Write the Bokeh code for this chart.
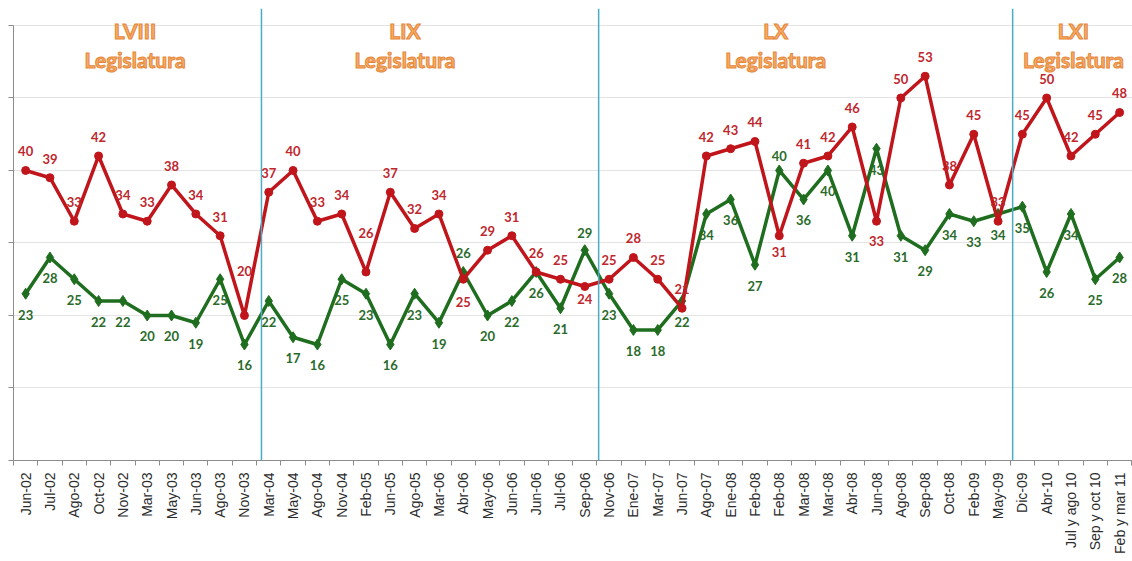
from bokeh.plotting import figure
from bokeh.models import ColumnDataSource, FixedTicker, Span, Range1d
from bokeh.core.properties import value
from bokeh.embed import file_html
from bokeh.resources import INLINE

# ---------------- data ----------------
periods = ["Jun-02", "Jul-02", "Ago-02", "Oct-02", "Nov-02", "Mar-03", "May-03", "Jun-03",
           "Ago-03", "Nov-03", "Mar-04", "May-04", "Ago-04", "Nov-04", "Feb-05", "Jun-05",
           "Ago-05", "Mar-06", "Abr-06", "May-06", "Jun-06", "Jun-06", "Jul-06", "Sep-06",
           "Nov-06", "Ene-07", "Mar-07", "Jun-07", "Ago-07", "Ene-08", "Feb-08", "Feb-08",
           "Mar-08", "Mar-08", "Abr-08", "Jun-08", "Ago-08", "Sep-08", "Oct-08", "Feb-09",
           "May-09", "Dic-09", "Abr-10", "Jul y ago 10", "Sep y oct 10", "Feb y mar 11"]

series_red = [40, 39, 33, 42, 34, 33, 38, 34, 31, 20,
              37, 40, 33, 34, 26, 37, 32, 34, 25, 29, 31, 26, 25, 24,
              25, 28, 25, 21, 42, 43, 44, 31, 41, 42, 46, 33, 50, 53, 38, 45, 33,
              45, 50, 42, 45, 48]

series_green = [23, 28, 25, 22, 22, 20, 20, 19, 25, 16,
                22, 17, 16, 25, 23, 16, 23, 19, 26, 20, 22, 26, 21, 29,
                23, 18, 18, 22, 34, 36, 27, 40, 36, 40, 31, 43, 31, 29, 34, 33, 34,
                35, 26, 34, 25, 28]

legislaturas = ["LVIII", "LIX", "LX", "LXI"]
# separator lines between legislatures (category units)
separators = [9.7, 23.57, 40.6]
# horizontal centre (category units) of each legislature caption
leg_centres = [4.5, 15.6, 30.85, 43.1]

# ---------------- label placement (screen px, + = down) ----------------
red_dy = [-19] * len(series_red)
for i, d in {9: -44, 14: -39, 18: 23, 23: 13, 31: 16, 35: 20}.items():
    red_dy[i] = d
green_dy = [21] * len(series_green)
for i, d in {18: -19, 23: -17, 31: -14}.items():
    green_dy[i] = d

RED = "#C0151B"
GREEN = "#1F6E1F"
RED_TXT = "#C0272D"
GREEN_TXT = "#2A6B2A"

xs = list(range(len(periods)))
yticks = [0, 10, 20, 30, 40, 50, 60]

p = figure(width=1132, height=561,
           x_range=Range1d(-0.5, 45.53), y_range=Range1d(0, 62.34),
           output_backend="svg", toolbar_location=None,
           min_border_left=13, min_border_right=0, min_border_top=8, min_border_bottom=101)
p.outline_line_color = None
p.background_fill_color = "white"
p.border_fill_color = "white"

# grid
p.xgrid.grid_line_color = None
p.ygrid.grid_line_color = "#E4E4E4"
p.ygrid.grid_line_width = 1
p.ygrid.ticker = FixedTicker(ticks=yticks[1:])

# y axis: ticks only, no labels
p.yaxis.ticker = FixedTicker(ticks=yticks)
p.yaxis.bounds = (0, 60)
p.yaxis.major_label_overrides = {t: "" for t in yticks}
p.yaxis.major_label_standoff = 0
p.yaxis.major_tick_out = 5
p.yaxis.major_tick_in = 0
p.yaxis.minor_tick_line_color = None
p.yaxis.axis_line_color = "#8C8C8C"
p.yaxis.major_tick_line_color = "#8C8C8C"

# x axis
p.xaxis.ticker = FixedTicker(ticks=xs, minor_ticks=[i - 0.5 for i in range(len(periods) + 1)])
p.xaxis.major_label_overrides = {i: lab for i, lab in enumerate(periods)}
p.xaxis.major_label_orientation = 3.14159265 / 2
p.xaxis.major_tick_line_color = None
p.xaxis.major_tick_out = 0
p.xaxis.major_tick_in = 0
p.xaxis.minor_tick_out = 5
p.xaxis.minor_tick_in = 0
p.xaxis.minor_tick_line_color = "#8C8C8C"
p.xaxis.axis_line_color = "#8C8C8C"
p.xaxis.major_label_standoff = 7
p.xaxis.major_label_text_font = "Liberation Sans"
p.xaxis.major_label_text_font_size = "14px"
p.xaxis.major_label_text_color = "#2B2B2B"

# separators
for s in separators:
    p.add_layout(Span(location=s, dimension="height", line_color="#4BACC6", line_width=1.5))

# series
src_g = ColumnDataSource(dict(x=xs, y=series_green, label=[str(v) for v in series_green], dy=green_dy))
src_r = ColumnDataSource(dict(x=xs, y=series_red, label=[str(v) for v in series_red], dy=red_dy))

p.line("x", "y", source=src_g, line_color=GREEN, line_width=3.5, line_join="round")
p.scatter("x", "y", source=src_g, marker="diamond", size=11, fill_color=GREEN, line_color=GREEN)
p.line("x", "y", source=src_r, line_color=RED, line_width=3.5, line_join="round")
p.scatter("x", "y", source=src_r, marker="circle", size=8, fill_color=RED, line_color=RED)

p.text("x", "y", text="label", source=src_g, y_offset="dy", text_align="center",
       text_baseline="middle", text_font=value("Lato"), text_font_style="bold",
       text_font_size="13px", text_color=GREEN_TXT)
p.text("x", "y", text="label", source=src_r, y_offset="dy", text_align="center",
       text_baseline="middle", text_font=value("Lato"), text_font_style="bold",
       text_font_size="13px", text_color=RED_TXT)

# legislature captions
src_leg = ColumnDataSource(dict(x=leg_centres, y1=[59.3] * 4, y2=[55.3] * 4,
                                name=legislaturas, leg=["Legislatura"] * 4))
for col, txt in (("y1", "name"), ("y2", "leg")):
    p.text("x", col, text=txt, source=src_leg,
           text_align="center", text_baseline="middle", text_font=value("Lato"),
           text_font_style="bold", text_font_size="21px", text_color="#F6AC66",
           text_outline_color="#E5873A")

open("out.html", "w").write(file_html(p, INLINE))
